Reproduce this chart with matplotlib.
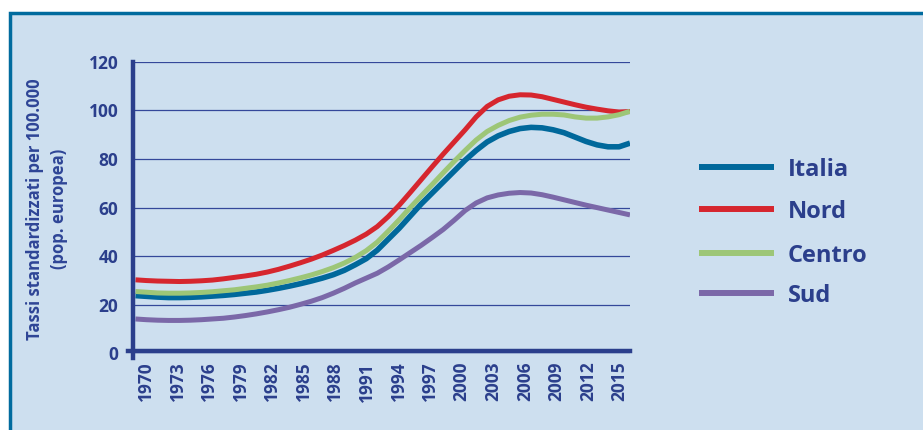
import numpy as np
import matplotlib
matplotlib.use("Agg")
import matplotlib.pyplot as plt
from matplotlib.lines import Line2D
from matplotlib.patches import Rectangle

# Annual values (tassi standardizzati per 100.000)
years = list(range(1970, 2016))

italia = [23.8, 23.5, 23.2, 23.0, 23.0, 23.1, 23.3, 23.6, 23.9, 24.3,
          24.8, 25.3, 26.0, 26.8, 27.7, 28.7, 29.8, 31.0, 32.4, 34.2,
          36.5, 39.0, 42.5, 47.0, 51.5, 56.5, 61.5, 66.0, 70.5, 75.0,
          79.5, 83.5, 87.0, 89.5, 91.3, 92.5, 93.0, 92.8, 92.0, 90.8,
          89.0, 87.2, 85.8, 85.0, 85.0, 86.5]

nord = [30.3, 30.0, 29.8, 29.7, 29.6, 29.7, 29.9, 30.2, 30.7, 31.3,
        31.9, 32.6, 33.5, 34.6, 35.9, 37.3, 38.8, 40.5, 42.4, 44.4,
        46.6, 49.1, 52.2, 56.3, 61.0, 66.2, 71.5, 76.8, 82.0, 87.0,
        92.0, 97.3, 101.6, 104.3, 105.8, 106.4, 106.3, 105.6, 104.5, 103.4,
        102.3, 101.3, 100.5, 99.8, 99.3, 99.5]

centro = [25.5, 25.2, 24.9, 24.8, 24.8, 24.9, 25.1, 25.4, 25.8, 26.2,
          26.8, 27.4, 28.1, 29.0, 30.0, 31.1, 32.3, 33.7, 35.3, 37.2,
          39.5, 42.3, 45.8, 50.3, 55.0, 60.0, 64.8, 69.5, 74.3, 79.0,
          83.5, 87.8, 91.3, 93.8, 95.8, 97.2, 98.0, 98.4, 98.4, 98.1,
          97.3, 96.8, 96.8, 97.3, 98.2, 99.6]

sud = [14.2, 13.9, 13.7, 13.6, 13.6, 13.7, 13.9, 14.2, 14.5, 15.0,
       15.6, 16.3, 17.1, 18.0, 19.0, 20.2, 21.5, 23.0, 24.8, 26.8,
       29.0, 31.0, 33.0, 35.6, 38.5, 41.5, 44.5, 47.7, 51.0, 54.8,
       58.8, 61.9, 64.0, 65.2, 65.9, 66.2, 66.0, 65.3, 64.3, 63.2,
       62.1, 61.0, 60.0, 59.0, 58.0, 57.0]

tick_years = [str(y) for y in range(1970, 2016, 3)]
y_ticks = [0, 20, 40, 60, 80, 100, 120]

series = [("Italia", italia, "#00689b", 4.0),
          ("Nord", nord, "#d6262e", 3.6),
          ("Centro", centro, "#9dc677", 3.6),
          ("Sud", sud, "#7b68a8", 3.6)]

navy = "#2b3f8c"
bg = "#cddfef"
plt.rcParams['font.family'] = ['Open Sans', 'DejaVu Sans']

W, H = 923, 430
fig = plt.figure(figsize=(W / 100, H / 100), dpi=100, facecolor="white")

# light blue panel with a blue frame
fig.add_artist(Rectangle((9.5 / W, -0.1), 1.2, 1.1 - 12.7 / H,
                         transform=fig.transFigure, facecolor=bg,
                         edgecolor="#006b9e", linewidth=2.5, zorder=0))

ax = fig.add_axes([133 / W, 1 - 353.5 / H, 497 / W, 291.8 / H])
ax.set_facecolor("none")

for name, vals, col, lw in series:
    ax.plot(years, vals, color=col, lw=lw, solid_capstyle="butt", zorder=3)

ax.set_xlim(1970 - 2.5 / 11, 2015)
ax.set_ylim(0, 120)

ax.set_yticks(y_ticks)
ax.set_yticklabels([str(v) for v in y_ticks])
ax.grid(axis="y", color="#34489a", lw=0.9)
ax.set_axisbelow(True)

ax.set_xticks(np.linspace(1970.95, 2014.05, len(tick_years)))
ax.set_xticklabels(tick_years, rotation=90)

ax.tick_params(axis="both", length=0, colors=navy, labelsize=12.5)
ax.tick_params(axis="y", pad=10.5)
ax.tick_params(axis="x", pad=6)
for lab in ax.get_xticklabels() + ax.get_yticklabels():
    lab.set_fontweight("bold")

for s in ax.spines.values():
    s.set_visible(False)

# thick axis lines, like the reference (left one runs a little below zero)
ax.add_line(Line2D([0, 0], [-4.5 / 291.8, 1], transform=ax.transAxes,
                   color=navy, lw=3.2, clip_on=False, zorder=4))
ax.add_line(Line2D([-5 / 497, 1], [3 / 291.8, 3 / 291.8], transform=ax.transAxes,
                   color=navy, lw=3.2, clip_on=False, zorder=4))

fig.text(47 / W, 1 - 209 / H, "Tassi standardizzati per 100.000\n(pop. europea)",
         rotation=90, ha="center", va="center", multialignment="center",
         fontsize=12, color="#2e4596", linespacing=1.45, fontweight="bold")

# legend drawn by hand to sit where it sits in the reference
leg_y = [166.7, 209.3, 253.3, 293.3]
for (name, vals, col, lw), yy in zip(series, leg_y):
    fy = 1 - yy / H
    fig.add_artist(Line2D([699 / W, 774 / W], [fy, fy], transform=fig.transFigure,
                          color=col, lw=4.3, solid_capstyle="butt"))
    fig.text(788 / W, fy, name, ha="left", va="center_baseline", fontsize=17,
             color=navy, fontweight="bold")

fig.savefig("out.png", dpi=100, facecolor="white")
